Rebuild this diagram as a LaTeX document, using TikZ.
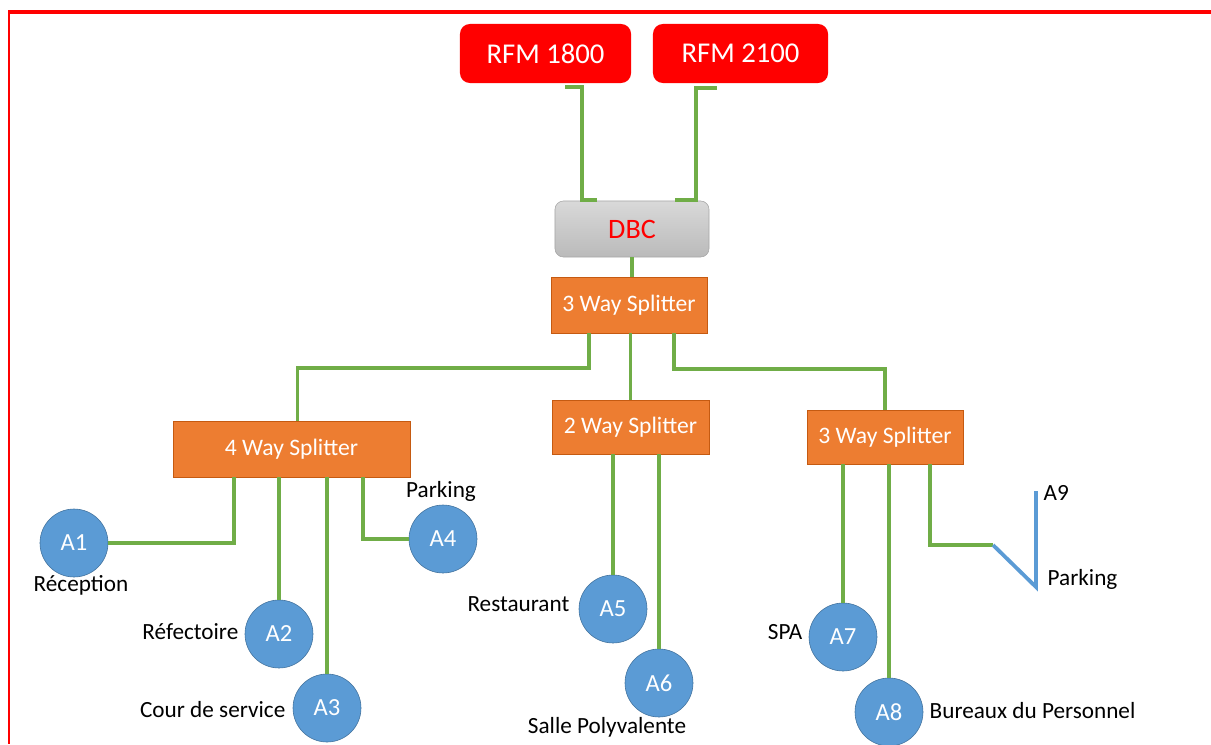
\documentclass[tikz,border=0pt]{standalone}
\usepackage{fontspec}
\setmainfont{Carlito}
\usepackage{xcolor}
\usetikzlibrary{shapes.geometric, positioning}
\definecolor{rfmred}{HTML}{FF0000}
\definecolor{splitorange}{HTML}{ED7D31}
\definecolor{splitedge}{HTML}{C55A11}
\definecolor{cablegreen}{HTML}{70AD47}
\definecolor{antblue}{HTML}{5B9BD5}
\definecolor{antedge}{HTML}{41719C}
\tikzstyle{rfmbox} = [rectangle, rounded corners=7pt, minimum height=1.475cm, text centered, fill=rfmred, text=white, font=\fontsize{20.4}{24}\selectfont]
\tikzstyle{dbcbox} = [rectangle, rounded corners=6pt, minimum width=3.85cm, minimum height=1.4cm, text centered, draw=black!35, top color=black!15, bottom color=black!27, text=rfmred, font=\fontsize{20}{24}\selectfont]
\tikzstyle{splitbox} = [rectangle, minimum height=1.4cm, text centered, draw=splitedge, fill=splitorange, text=white, font=\fontsize{16.8}{20}\selectfont]
\tikzstyle{antenna} = [circle, minimum size=1.7cm, inner sep=0pt, draw=antedge, fill=antblue, text=white, font=\fontsize{17.5}{20}\selectfont]
\tikzstyle{place} = [font=\fontsize{16.5}{19}\selectfont, inner sep=1pt]
\tikzstyle{cable} = [cablegreen, line width=2.7pt]
\tikzstyle{feeder} = [antblue, line width=2.7pt]

\begin{document}
\begin{tikzpicture}[x=0.025cm, y=-0.025cm]
        \useasboundingbox (0,0) rectangle (1211,744);
        % frame
        \draw [rfmred, line width=2.2pt] (8,12) -- (1211,12);
        \draw [rfmred, line width=1.5pt] (9,12) -- (9,744);

        \node (rfm_1800) [rfmbox, minimum width=4.275cm] at (545.5,53.5) {RFM 1800};
        \node (rfm_2100) [rfmbox, minimum width=4.375cm] at (740.5,53.5) {RFM 2100};
        \node (dbc) [dbcbox] at (632,229) {DBC};
        \node (split_3) [splitbox, minimum width=3.9cm] at (629,305) {3 Way Splitter};
        \node (split_4) [splitbox, minimum width=5.925cm] at (291.5,449) {4 Way Splitter};
        \node (split_2) [splitbox, minimum width=3.925cm, minimum height=1.35cm] at (630.5,427) {2 Way Splitter};
        \node (split_3b) [splitbox, minimum width=3.9cm, minimum height=1.35cm] at (885,437) {3 Way Splitter};

        \node (a1) [antenna] at (74,543) {A1};
        \node (a2) [antenna] at (279,634) {A2};
        \node (a3) [antenna] at (327,708) {A3};
        \node (a4) [antenna] at (443,539) {A4};
        \node (a5) [antenna] at (613,609) {A5};
        \node (a6) [antenna] at (659,683) {A6};
        \node (a7) [antenna] at (843,637) {A7};
        \node (a8) [antenna] at (889,712) {A8};

        \node (reception) [place] at (81,585) {Réception};
        \node (refectoire) [place, anchor=east] at (240,632) {Réfectoire};
        \node (cour) [place, anchor=east] at (287,710) {Cour de service};
        \node (parking_a4) [place] at (441,491) {Parking};
        \node (restaurant) [place, anchor=east] at (571,604) {Restaurant};
        \node (salle) [place] at (607,727) {Salle Polyvalente};
        \node (spa) [place, anchor=east] at (804,632) {SPA};
        \node (bureaux) [place, anchor=west] at (928,711) {Bureaux du Personnel};

        \coordinate (r18_out) at (565,87);
        \coordinate (r21_out) at (717,88);
        \coordinate (dbc_in1) at (597,200);
        \coordinate (dbc_in2) at (675,200);
        \coordinate (s3_l) at (589,333);
        \coordinate (s3_r) at (674,333);
        \coordinate (a9_kink) at (993,545);
        \coordinate (a9_low) at (1036,587);
        \coordinate (a9_top) at (1036,491);

        \node (a9) [place, anchor=west] at (1042,493) {A9};
        \node (parking_a9) [place, anchor=west] at (1046,579) {Parking};

        \draw [cable] (r18_out) -- ++(17,0) |- (dbc_in1);
        \draw [cable] (r21_out) -- ++(-21,0) |- (dbc_in2);
        \draw [cable] (dbc.south) -- (dbc.south |- split_3.north);
        \draw [cable] (s3_l) -- ++(0,35) -| ([xshift=4.3pt]split_4.north);
        \draw [cable] (split_2.north |- split_3.south) -- (split_2.north);
        \draw [cable] (s3_r) -- ++(0,36) -| (split_3b.north);

        \draw [cable] ([xshift=-41pt]split_4.south) |- (a1);
        \draw [cable] (a2 |- split_4.south) -- (a2);
        \draw [cable] (a3 |- split_4.south) -- (a3);
        \draw [cable] ([xshift=51pt]split_4.south) |- (a4);

        \draw [cable] (a5 |- split_2.south) -- (a5);
        \draw [cable] (a6 |- split_2.south) -- (a6);

        \draw [cable] (a7 |- split_3b.south) -- (a7);
        \draw [cable] (a8 |- split_3b.south) -- (a8);
        \draw [cable] ([xshift=32pt]split_3b.south) |- (a9_kink);
        \draw [feeder] (a9_kink) -- (a9_low) -- (a9_top);

    \end{tikzpicture}
\end{document}
